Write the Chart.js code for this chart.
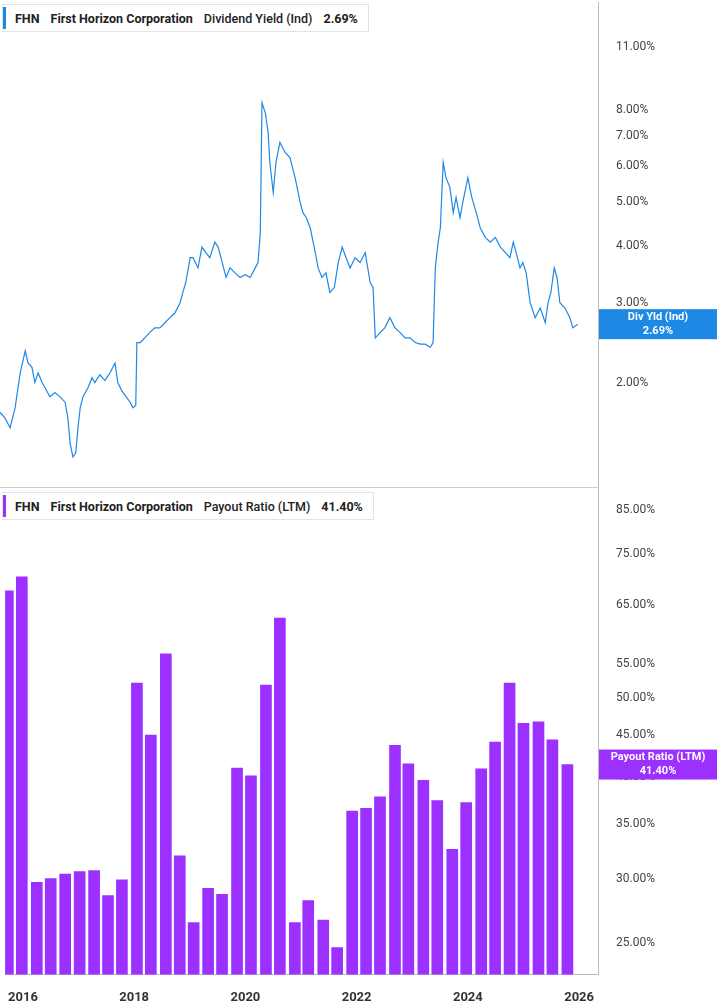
<!DOCTYPE html>
<html><head><meta charset="utf-8">
<script src="https://cdn.jsdelivr.net/npm/chart.js@4/dist/chart.umd.min.js"></script>
<style>
body{margin:0;background:#fff;font-family:Roboto,"Open Sans",sans-serif;overflow:hidden}
#w{position:relative;width:717px;height:1005px}
.clip{position:absolute;left:0;width:717px;overflow:hidden}
canvas{position:absolute;left:0}
.leg{position:absolute;left:2px;height:26px;border:1px solid #e3e3e3;background:#fff;font-size:12.5px;font-weight:bold;color:#222;display:flex;align-items:center;padding:0 10px 0 12px;white-space:nowrap}
.leg b{position:absolute;left:0;top:2px;bottom:2px;width:3px}
.leg span{margin-right:11px}
</style></head><body>
<div id="w">
<div class="clip" style="top:0;height:487px"><canvas id="c1" width="717" height="522" style="top:-15px"></canvas></div>
<div class="clip" style="top:487px;height:518px"><canvas id="c2" width="717" height="543" style="top:-16px"></canvas></div>
<div style="position:absolute;left:0;top:487px;width:599px;border-top:1px solid #ccc"></div>
<div class="leg" style="top:4px"><b style="background:#1e88e5"></b><span>FHN</span><span>First Horizon Corporation</span><span style="font-weight:500">Dividend Yield (Ind)</span><span style="margin:0">2.69%</span></div>
<div class="leg" style="top:492px"><b style="background:#9b30ff"></b><span>FHN</span><span>First Horizon Corporation</span><span style="font-weight:500">Payout Ratio (LTM)</span><span style="margin:0">41.40%</span></div>
</div>
<script>
const yieldDates=[2015.68,2015.77,2015.86,2015.95,2016.04,2016.13,2016.18,2016.25,2016.30,2016.36,2016.43,2016.48,2016.57,2016.66,2016.75,2016.84,2016.89,2016.93,2016.98,2017.03,2017.07,2017.11,2017.16,2017.25,2017.32,2017.37,2017.46,2017.55,2017.64,2017.73,2017.78,2017.85,2017.93,2018.00,2018.05,2018.10,2018.12,2018.18,2018.26,2018.35,2018.44,2018.53,2018.62,2018.71,2018.80,2018.89,2018.94,2018.99,2019.07,2019.12,2019.21,2019.28,2019.35,2019.42,2019.51,2019.57,2019.64,2019.71,2019.78,2019.87,2019.96,2020.05,2020.14,2020.23,2020.28,2020.32,2020.35,2020.41,2020.46,2020.49,2020.55,2020.60,2020.67,2020.76,2020.85,2020.94,2021.03,2021.08,2021.14,2021.21,2021.30,2021.35,2021.42,2021.49,2021.56,2021.64,2021.71,2021.78,2021.85,2021.92,2022.01,2022.10,2022.19,2022.28,2022.33,2022.37,2022.46,2022.54,2022.63,2022.72,2022.81,2022.90,2022.99,2023.08,2023.17,2023.26,2023.35,2023.40,2023.44,2023.49,2023.53,2023.58,2023.63,2023.70,2023.76,2023.81,2023.88,2023.93,2024.02,2024.09,2024.17,2024.24,2024.33,2024.42,2024.51,2024.60,2024.69,2024.77,2024.83,2024.88,2024.95,2025.00,2025.06,2025.13,2025.22,2025.31,2025.40,2025.45,2025.50,2025.56,2025.61,2025.66,2025.75,2025.84,2025.89,2025.98];
const yieldVals=[1.72,1.67,1.59,1.76,2.10,2.35,2.21,2.16,2.00,2.10,2.00,1.95,1.86,1.90,1.86,1.81,1.67,1.47,1.37,1.40,1.59,1.76,1.86,1.95,2.05,2.00,2.08,2.02,2.10,2.21,2.00,1.92,1.86,1.81,1.76,1.78,2.45,2.45,2.51,2.58,2.64,2.64,2.71,2.78,2.85,3.00,3.16,3.32,3.77,3.77,3.58,3.98,3.87,3.77,4.08,3.98,3.68,3.41,3.58,3.49,3.41,3.46,3.41,3.58,3.68,4.28,8.28,7.86,7.11,6.12,5.25,6.12,6.77,6.44,6.26,5.66,5.00,4.74,4.62,4.39,3.87,3.58,3.41,3.49,3.16,3.24,3.68,3.98,3.77,3.58,3.77,3.68,3.87,3.32,3.24,2.51,2.58,2.64,2.78,2.64,2.58,2.51,2.51,2.45,2.43,2.43,2.39,2.45,3.58,4.08,4.39,6.12,5.66,5.39,4.74,5.12,4.62,5.00,5.66,5.12,4.74,4.39,4.18,4.08,4.18,3.98,3.87,3.77,4.08,3.87,3.58,3.68,3.49,3.00,2.78,2.92,2.71,3.00,3.16,3.58,3.41,3.00,2.92,2.78,2.64,2.69];
const payoutDates=[2015.73,2015.98,2016.25,2016.50,2016.76,2017.02,2017.28,2017.53,2017.78,2018.05,2018.30,2018.57,2018.82,2019.07,2019.33,2019.58,2019.85,2020.10,2020.37,2020.62,2020.89,2021.13,2021.40,2021.65,2021.92,2022.17,2022.42,2022.69,2022.93,2023.20,2023.45,2023.72,2023.97,2024.24,2024.49,2024.75,2025.00,2025.27,2025.52,2025.79];
const payoutVals=[67.6,70.3,29.7,30.0,30.4,30.6,30.7,28.6,29.9,52.1,45.0,56.6,32.0,26.5,29.2,28.7,41.0,40.1,51.8,62.6,26.5,28.2,26.7,24.7,36.3,36.6,37.8,43.7,41.5,39.6,37.4,32.6,37.2,40.9,44.1,52.1,46.5,46.7,44.4,41.4];
const yieldTicks=[2,3,4,5,6,7,8,11];
const payoutTicks=[25,30,35,40,45,50,55,65,75,85];
const yearTicks=[2016,2018,2020,2022,2024,2026];
const X_MIN=2015.68,X_MAX=2026.34;
const FONT={family:'Roboto',size:12};

function xScale(show){return {type:'linear',min:X_MIN,max:X_MAX,display:show,offset:false,
  grid:{display:false,offset:false},border:{display:show,color:'#bbb'},
  afterBuildTicks:a=>{a.ticks=yearTicks.map(v=>({value:v}));},
  ticks:{color:'#333',font:{family:'Roboto',size:13,weight:'bold'},maxRotation:0,autoSkip:false,padding:8,callback:v=>String(v)}};}
function yScale(min,max,ticks){return {type:'logarithmic',position:'right',min,max,
  grid:{display:false},border:{display:true,color:'#bbb'},
  afterBuildTicks:a=>{a.ticks=ticks.map(v=>({value:v}));},
  afterFit:a=>{a.width=119;},
  ticks:{color:'#444',font:FONT,padding:10,autoSkip:false,callback:v=>v.toFixed(2)+'%'}};}
function tagPlugin(val,label,color){return {id:'tag',afterDraw(ch){
  const c=ch.ctx,y=ch.scales.y.getPixelForValue(val),x=ch.chartArea.right+1;
  c.save();c.fillStyle=color;c.fillRect(x,y-15,717-x,30);
  c.fillStyle='#fff';c.font='bold 11px Roboto';c.textAlign='center';c.textBaseline='middle';
  c.fillText(label,x+(717-x)/2,y-7);c.fillText(val.toFixed(2)+'%',x+(717-x)/2,y+7);c.restore();}};}

new Chart(document.getElementById('c1'),{type:'line',
 data:{datasets:[{data:yieldDates.map((d,i)=>({x:d,y:yieldVals[i]})),borderColor:'#1e88e5',borderWidth:1.2,pointRadius:0,tension:0}]},
 options:{responsive:false,animation:false,layout:{padding:{top:0,bottom:0}},
  plugins:{legend:{display:false},tooltip:{enabled:false}},
  scales:{x:xScale(false),y:yScale(1.16,13.8,yieldTicks)}},
 plugins:[tagPlugin(2.69,'Div Yld (Ind)','#1e88e5')]});

new Chart(document.getElementById('c2'),{type:'bar',
 data:{datasets:[{data:payoutDates.map((d,i)=>({x:d,y:payoutVals[i]})),backgroundColor:'#9b30ff',barThickness:11,base:1}]},
 options:{responsive:false,animation:false,layout:{padding:{top:3,bottom:0}},
  plugins:{legend:{display:false},tooltip:{enabled:false}},
  scales:{x:xScale(true),y:yScale(22.9,90.3,payoutTicks)}},
 plugins:[tagPlugin(41.4,'Payout Ratio (LTM)','#9b30ff')]});
</script></body></html>
